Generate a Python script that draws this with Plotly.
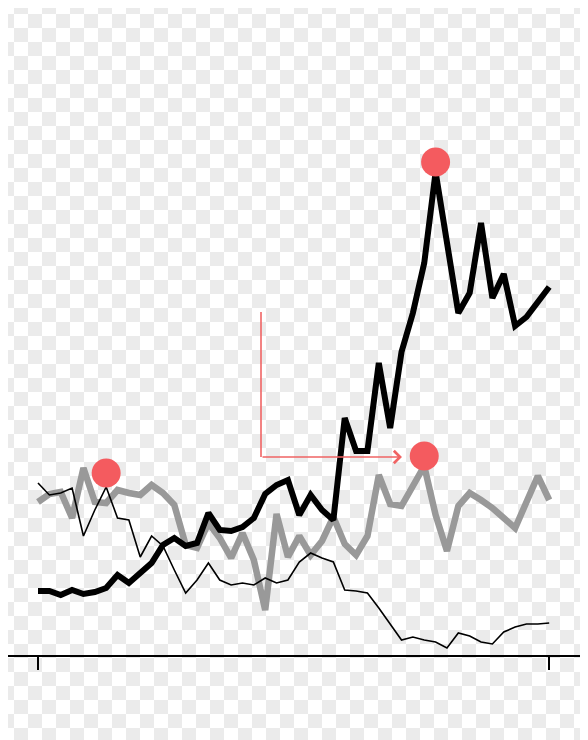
import plotly.graph_objects as go

# ---- data (index steps along x, values in arbitrary units) ----
steps = list(range(46))

thick_black = [12.8, 12.8, 12.0, 13.0, 12.2, 12.6, 13.4, 16.0, 14.4, 16.6,
               18.4, 22.0, 23.4, 21.8, 22.4, 28.4, 25.0, 24.8, 25.6, 27.4,
               32.2, 34.0, 35.0, 28.0, 32.0, 29.0, 27.0, 47.4, 40.8, 40.8,
               58.4, 45.4, 60.6, 68.4, 78.4, 96.6, 82.4, 68.4, 72.4, 86.4,
               71.4, 76.2, 65.8, 67.6, 70.6, 73.6]

gray_line = [30.6, 32.2, 32.6, 27.4, 37.4, 30.6, 30.4, 33.0, 32.4, 32.0,
             34.0, 32.4, 30.0, 22.0, 21.4, 26.4, 23.4, 19.4, 24.4, 19.0,
             9.0, 28.2, 19.6, 23.8, 20.0, 22.8, 27.6, 22.2, 20.0, 23.8,
             36.0, 30.2, 29.8, 33.8, 37.8, 28.0, 20.8, 29.8, 32.4, 31.0,
             29.4, 27.4, 25.4, 30.6, 35.8, 31.0]

thin_black = [34.4, 32.0, 32.4, 33.4, 23.8, 29.0, 33.6, 27.4, 27.0, 19.6,
              23.8, 21.8, 17.0, 12.4, 15.0, 18.4, 15.0, 14.0, 14.4, 14.0,
              15.4, 14.4, 15.0, 18.6, 20.4, 19.4, 18.6, 13.0, 12.8, 12.4,
              9.4, 6.2, 3.0, 3.6, 3.0, 2.6, 1.4, 4.4, 3.8, 2.6,
              2.2, 4.6, 5.6, 6.2, 6.2, 6.4]

dot_x = [6, 35, 34]
dot_y = [36.4, 98.6, 39.8]

elbow_x = [19.63, 19.63]
elbow_y = [68.6, 39.6]
arrow_tip = (32.04, 39.6)

tick_vals = [0, 45]

# The page body keeps an 8 px default margin, so the figure is drawn
# 8 px in from the top-left corner; the visible part is 580 x 732.
OFF = 8
W, H = 588 - OFF, 740 - OFF
CELL = 14

# ---- checkerboard background (transparent-image look), as one vector shape ----
parts = []
for r in range(-1, H // CELL + 2):
    for c in range(-1, W // CELL + 2):
        # pattern phase is fixed to the window, not to the figure
        if (r + c) % 2 == 1:
            px0 = c * CELL - OFF
            py0 = r * CELL - OFF
            x0 = max(px0, 0) / W
            x1 = min(px0 + CELL, W) / W
            y0 = 1 - max(py0, 0) / H
            y1 = 1 - min(py0 + CELL, H) / H
            if x1 > x0 and y0 > y1:
                parts.append(f"M{x0:.5f},{y0:.5f}H{x1:.5f}V{y1:.5f}H{x0:.5f}Z")
checker_path = " ".join(parts)

fig = go.Figure()

fig.add_shape(type="path", path=checker_path, xref="paper", yref="paper",
              fillcolor="#ebebeb", line=dict(width=0), layer="below")

fig.add_trace(go.Scatter(x=steps, y=gray_line, mode="lines",
                         line=dict(color="#999999", width=6.5),
                         hoverinfo="skip"))
fig.add_trace(go.Scatter(x=steps, y=thin_black, mode="lines",
                         line=dict(color="#000000", width=1.6),
                         hoverinfo="skip"))
fig.add_trace(go.Scatter(x=steps, y=thick_black, mode="lines",
                         line=dict(color="#000000", width=6),
                         hoverinfo="skip"))
fig.add_trace(go.Scatter(x=elbow_x, y=elbow_y, mode="lines",
                         line=dict(color="#f06464", width=1.6),
                         hoverinfo="skip"))
fig.add_trace(go.Scatter(x=dot_x, y=dot_y, mode="markers",
                         marker=dict(color="#f45b5f", size=29, line=dict(width=0)),
                         hoverinfo="skip"))

fig.add_annotation(x=arrow_tip[0], y=arrow_tip[1], xref="x", yref="y",
                   ax=elbow_x[-1], ay=elbow_y[-1], axref="x", ayref="y",
                   text="", showarrow=True, arrowhead=4, arrowsize=1.5,
                   arrowwidth=1.6, arrowcolor="#f06464")

ax_left, ax_right, ax_y = 8 - OFF, 580 - OFF, 655 - OFF
fig.update_layout(
    width=W, height=H,
    margin=dict(l=0, r=0, t=0, b=0),
    paper_bgcolor="#ffffff",
    plot_bgcolor="rgba(0,0,0,0)",
    showlegend=False,
    hovermode=False,
    xaxis=dict(domain=[max(ax_left, 0) / W, ax_right / W],
               range=[(max(ax_left, 0) - (38 - OFF)) / 11.36,
                      (ax_right - (38 - OFF)) / 11.36],
               showgrid=False, zeroline=False,
               showline=True, linecolor="#000000", linewidth=2,
               ticks="outside", ticklen=13, tickwidth=2, tickcolor="#000000",
               tickvals=tick_vals, showticklabels=False),
    yaxis=dict(domain=[(H - ax_y) / H, 1],
               range=[0, (ax_y + OFF) / 5 - OFF / 5 + 0],
               showgrid=False, zeroline=False, showline=False,
               showticklabels=False, ticks=""),
)
# y range: top of figure is window pixel 8 -> value (655 - 8) / 5
fig.update_yaxes(range=[0, (655 - OFF) / 5])

fig.write_html("out.html",
               config={"displayModeBar": False, "staticPlot": True})
